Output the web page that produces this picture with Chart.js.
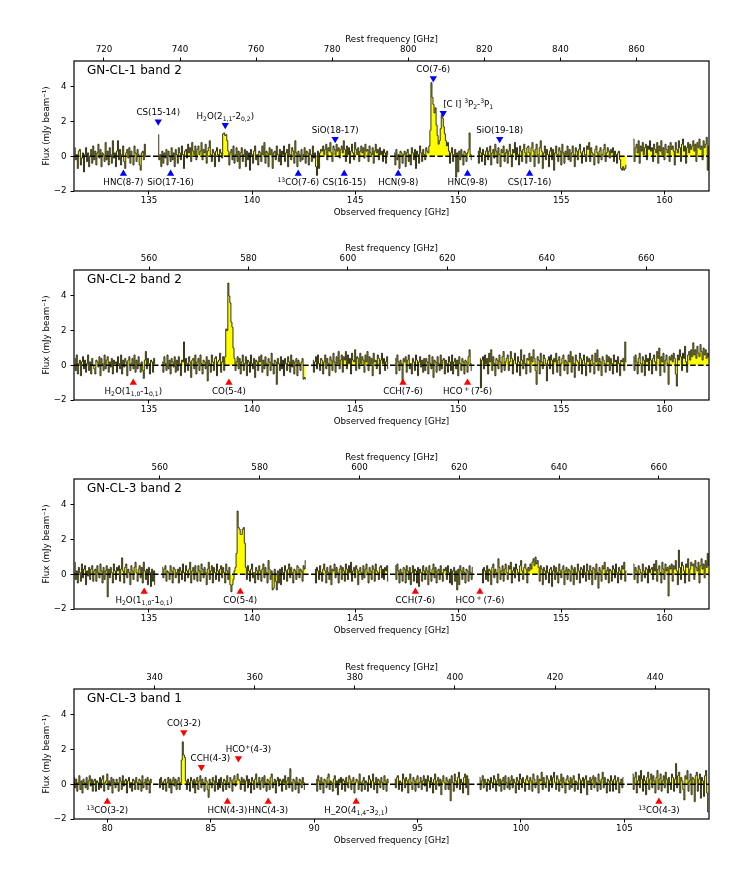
<!DOCTYPE html>
<html>
<head>
<meta charset="utf-8">
<script src="https://cdn.jsdelivr.net/npm/chart.js@4.4.0/dist/chart.umd.min.js"></script>
<style>
    body { margin: 0; background: #fff; }
    .panel { position: absolute; left: 0; width: 747px; height: 193px; }
</style>
</head>
<body>
<div class="panel" style="top: 30px;"><canvas id="p1" width="747" height="193"></canvas></div>
<div class="panel" style="top: 239px;"><canvas id="p2" width="747" height="193"></canvas></div>
<div class="panel" style="top: 448px;"><canvas id="p3" width="747" height="193"></canvas></div>
<div class="panel" style="top: 658px;"><canvas id="p4" width="747" height="193"></canvas></div>
<script>
// channel grids (GHz, observed frame), one row below = 1 GHz
const band2Start = 131.4;
const band1Start = 78.4;
const channelStep = 0.05;

// axis ticks
const yTicks = [-2, 0, 2, 4];
const band2ObsTicks = [135, 140, 145, 150, 155, 160];
const band1ObsTicks = [80, 85, 90, 95, 100, 105];
const cl1RestTicks = [720, 740, 760, 780, 800, 820, 840, 860];
const cl2RestTicks = [560, 580, 600, 620, 640, 660];
const cl3b2RestTicks = [560, 580, 600, 620, 640, 660];
const cl3b1RestTicks = [340, 360, 380, 400, 420, 440];

// flux per channel (mJy/beam), null = no data
const cl1Flux = [
    0.5,-0.2,0.1,-0.7,0.3,0.4,-0.5,-0.1,0.2,-0.9,0.1,0.5,-0.3,0.2,-0.6,0.0,0.4,-0.4,0.6,-0.2,
    0.3,-0.5,0.2,0.7,-0.1,0.4,-0.6,0.2,0.1,-0.3,0.8,-0.2,0.3,-0.5,0.5,0.1,-0.4,0.9,-0.1,0.2,
    -0.6,0.3,0.9,-0.2,0.4,-0.5,0.1,0.6,-0.3,-0.7,0.2,0.4,-0.1,0.5,-0.4,0.3,0.0,-0.5,0.6,0.2,
    -0.3,0.4,0.1,-0.5,-0.8,0.2,0.3,-0.2,0.7,0.1,null,null,null,null,null,null,null,null,null,null,
    null,1.25,-0.2,0.1,-0.6,0.3,-0.4,0.2,-0.1,0.4,-0.5,0.3,0.0,-0.3,0.5,-0.2,0.2,-0.6,0.4,0.1,
    -0.4,0.5,0.2,-0.2,0.6,0.1,-0.7,0.3,0.4,-0.1,0.7,0.2,0.5,-0.3,0.8,0.3,0.1,0.6,-0.2,0.4,
    0.6,0.1,0.3,0.8,-0.2,0.4,0.2,0.7,-0.4,0.3,0.5,0.9,0.1,-0.3,0.4,0.2,-0.6,0.3,0.5,0.1,
    -0.3,0.4,0.2,-0.1,1.3,1.35,1.2,1.25,0.9,0.3,-0.5,0.2,0.4,-0.2,0.6,-0.4,0.1,0.5,-0.3,0.3,
    -0.7,0.2,0.5,-0.3,0.1,0.4,-0.6,0.3,-0.2,0.2,-0.8,0.4,0.1,-0.4,0.3,0.6,-0.2,0.1,-0.5,0.3,
    0.2,-0.3,0.6,0.1,0.8,-0.4,0.3,0.2,-0.6,0.5,0.1,0.4,-0.7,0.2,0.3,-0.2,0.6,0.1,-0.3,0.4,
    -0.5,0.3,0.1,0.6,-0.3,0.2,0.4,-0.6,0.7,0.1,-0.2,0.5,0.3,-0.4,0.9,0.2,-0.6,0.3,0.1,-0.3,
    0.4,-0.2,0.1,0.5,-0.4,0.3,0.2,-0.5,0.4,0.1,-0.3,0.6,-0.1,0.2,-0.6,-1.1,0.3,-0.7,0.2,0.4,
    0.3,0.6,0.1,0.4,0.7,-0.2,0.5,0.3,0.8,0.2,-0.3,0.6,0.4,0.1,0.7,0.3,0.5,-0.1,0.4,0.6,
    0.2,0.9,0.4,-0.3,0.6,0.1,0.5,-0.4,0.3,0.7,0.2,-0.2,0.8,0.4,0.1,0.5,-0.3,0.3,0.6,0.2,
    0.5,-0.1,0.7,0.3,0.4,-0.3,0.6,0.2,0.1,0.5,-0.4,0.3,0.7,0.2,0.4,-0.2,0.5,0.1,0.3,-0.3,
    0.4,0.2,-0.4,0.3,0.1,null,null,null,null,null,0.2,-0.5,0.4,-0.2,0.1,-0.7,0.3,0.2,-0.4,0.1,
    0.3,-0.6,0.2,0.4,-0.3,0.1,-0.5,0.5,0.2,-0.2,0.4,-0.7,0.3,0.1,-0.4,0.6,0.2,-0.3,0.4,0.1,
    -0.2,0.5,0.3,0.2,0.6,1.5,4.25,3.4,3.0,2.5,2.8,1.8,1.2,0.7,0.9,1.6,2.4,2.2,1.7,1.3,
    0.9,0.6,0.8,0.3,-0.4,0.2,0.5,-0.3,0.1,0.4,-1.2,0.2,-0.9,0.3,-0.2,0.4,0.1,-0.5,0.3,0.2,
    -0.3,0.2,0.4,1.35,0.1,-0.2,null,null,null,null,null,0.3,-0.4,0.5,0.2,-0.3,0.4,0.1,-0.5,0.3,
    0.5,-0.2,0.3,0.6,-0.5,0.2,0.4,-0.1,0.7,0.3,-0.4,0.5,0.1,-0.6,0.4,0.2,0.6,-0.3,0.2,0.4,
    -0.4,0.3,0.7,0.1,-0.6,0.4,0.2,0.8,-0.2,0.5,0.1,-0.5,0.6,0.3,-0.3,0.4,0.7,0.2,-0.4,0.5,
    0.6,0.2,-0.3,0.5,0.8,0.3,-0.6,0.4,0.7,0.1,-0.4,0.5,0.9,0.3,-0.7,0.2,0.6,-0.2,0.4,0.1,
    -0.6,0.3,0.5,-0.2,0.4,-0.8,0.2,0.6,0.1,-0.3,0.5,0.3,-0.5,0.7,0.2,-0.4,0.3,0.1,0.6,-0.2,
    0.4,-0.3,0.2,0.6,0.1,-0.6,0.5,0.3,-0.2,0.4,0.7,0.2,-0.4,0.3,0.5,0.1,-0.3,0.6,0.4,0.8,
    -0.3,0.5,0.2,0.1,-0.5,0.4,0.6,0.2,-0.4,0.3,0.5,-0.2,0.1,0.4,0.7,-0.3,0.2,0.5,0.3,-0.1,
    0.4,0.2,0.5,-0.3,0.3,0.1,-0.4,0.2,0.3,-0.2,-0.7,-0.8,-0.6,-0.8,-0.7,-0.5,null,null,null,null,
    null,null,1.0,-0.3,0.5,0.7,0.2,0.9,-0.4,0.6,0.3,0.8,0.1,0.5,0.7,-0.2,0.6,0.4,0.9,0.3,
    0.5,-0.3,0.7,0.4,0.2,0.8,-0.4,0.6,0.3,0.9,0.1,0.5,-0.2,0.7,0.4,0.2,0.6,-0.3,0.8,0.4,
    0.6,0.3,-0.5,0.8,0.4,0.2,0.9,0.5,-0.3,0.7,1.0,0.3,0.6,-0.4,0.5,0.8,0.2,0.7,0.4,0.6,
    0.9,0.3,0.7,-0.3,0.8,0.5,1.0,0.4,0.6,-0.2,0.9,0.5,0.7,1.1,-0.8,0.6
];

const cl2Flux = [
    0.4,-0.3,0.6,-0.5,0.1,0.3,-0.6,0.2,0.5,-0.2,0.3,-0.4,0.1,0.6,-0.3,0.2,-0.5,0.4,0.0,-0.2,
    -0.5,0.3,0.2,-0.1,0.5,-0.6,0.4,0.1,-0.3,0.6,-0.2,0.3,0.5,-0.4,0.2,-0.1,0.4,-0.5,0.3,0.1,
    0.2,-0.4,0.5,0.1,-0.2,0.6,-0.5,0.3,-0.1,0.4,0.2,-0.6,0.3,0.5,-0.3,0.1,0.4,-0.2,0.6,-0.4,
    0.3,-0.2,0.5,0.1,-0.4,0.2,-0.3,-0.75,0.3,0.8,-0.2,0.4,0.1,-0.5,0.3,0.2,-0.4,0.4,0.1,null,
    null,null,null,null,null,0.2,-0.4,0.5,0.1,-0.3,0.6,-0.2,0.3,-0.5,0.4,0.2,-0.1,0.5,-0.4,0.3,
    -0.3,0.5,0.1,-0.6,0.3,0.2,1.35,-0.4,0.4,0.1,-0.3,0.5,0.2,-0.7,0.3,0.4,-0.2,0.6,-0.5,0.2,
    0.4,-0.3,0.6,0.1,-0.5,0.3,0.2,-0.2,0.5,-0.9,0.3,0.1,-0.4,0.6,0.2,-0.3,0.4,0.5,-0.6,0.2,
    0.3,0.7,-0.4,0.2,0.5,-0.3,0.5,2.1,2.0,4.75,4.0,3.6,2.5,2.2,1.0,0.4,-0.3,0.2,0.5,-0.2,
    0.4,-0.5,0.2,0.6,-0.3,0.1,0.5,-0.6,0.3,0.2,-0.4,0.6,0.1,-0.2,0.4,-0.7,0.3,0.2,-0.3,0.5,
    0.2,0.6,-0.4,0.3,-0.2,0.5,0.1,-0.6,0.4,0.2,-0.3,0.7,0.1,-0.5,0.3,0.2,-1.1,0.4,0.1,-0.3,
    0.5,-0.2,0.3,-0.6,0.4,0.1,-0.3,0.5,0.2,-0.4,0.6,-0.1,0.3,-0.5,0.2,0.4,-0.6,0.3,0.1,-0.3,
    0.2,0.4,-0.8,-0.7,-0.8,null,null,null,null,null,null,0.3,-0.4,0.2,0.5,-0.2,0.6,0.1,-0.3,0.4,
    0.3,-0.5,0.2,0.6,-0.2,0.4,0.1,-0.6,0.5,0.3,-0.3,0.7,0.2,-0.4,0.5,0.1,0.8,-0.2,0.3,0.6,
    -0.4,0.5,0.3,0.8,-0.2,0.6,0.1,0.4,-0.5,0.7,0.3,0.2,0.9,-0.3,0.5,0.4,-0.2,0.7,0.1,0.5,
    0.3,-0.4,0.6,0.2,0.8,-0.3,0.5,0.1,0.4,-0.6,0.7,0.2,0.3,-0.2,0.6,0.4,-0.5,0.3,0.7,0.1,
    0.4,-0.3,0.2,0.5,-0.2,null,null,null,null,null,null,0.4,-0.5,0.6,0.2,-0.3,0.3,0.1,-1.0,0.4,
    0.2,0.5,-0.4,0.3,0.6,-0.2,0.1,-0.5,0.4,0.2,-0.3,0.6,0.3,-0.6,0.2,0.5,-0.1,0.3,-0.4,0.4,
    -0.3,0.4,0.2,-0.5,0.6,0.1,-0.2,0.5,-0.7,0.3,0.2,-0.4,0.5,0.1,-0.3,0.6,-0.2,0.3,0.4,-0.5,
    0.3,0.1,-0.4,0.5,0.2,-0.3,0.6,-0.5,0.2,0.4,-0.2,0.3,-0.6,0.5,0.1,-0.3,0.4,0.2,-0.5,0.3,
    0.2,-0.4,0.5,0.9,0.1,-0.3,null,null,null,null,null,null,null,0.4,-1.3,0.3,0.5,-0.2,0.6,0.1,
    0.4,-0.5,0.7,0.2,0.9,-0.3,0.5,0.1,-0.6,0.4,0.3,-0.2,0.6,0.2,-0.4,0.5,0.8,-0.3,0.2,0.4,
    0.6,-0.3,0.2,0.8,0.4,-0.5,0.3,0.7,0.1,-0.4,0.5,0.2,-0.6,0.9,0.3,-0.2,0.6,0.1,-0.5,0.4,
    0.3,0.7,-0.4,0.5,0.2,0.9,0.4,-0.3,-1.1,0.5,0.3,-0.5,0.7,0.2,-0.2,0.6,0.4,0.1,-0.9,0.3,
    0.5,-0.2,0.6,0.3,-0.5,0.4,0.2,0.7,-0.4,0.3,0.5,-0.6,0.1,0.4,0.6,-0.3,0.3,0.2,-0.5,0.6,
    0.2,0.8,-0.4,0.5,0.1,-0.7,0.6,0.3,0.2,-0.3,0.7,0.4,-0.5,0.3,0.6,0.1,-0.6,0.5,0.2,0.4,
    -0.4,0.3,0.6,0.1,-0.5,0.7,0.2,0.9,-0.3,0.4,0.2,-0.6,0.5,0.3,0.1,-0.4,0.6,0.2,0.5,-0.3,
    0.4,0.1,-0.5,0.6,0.2,0.3,-0.4,0.5,0.1,-0.6,0.3,0.2,0.4,-0.3,1.35,0.2,null,null,null,null,
    null,null,0.5,-0.3,0.6,0.2,-0.5,0.4,0.7,0.1,-0.4,0.5,0.3,-0.6,0.6,0.2,0.4,-0.3,0.7,0.3,
    -0.5,0.4,0.6,0.2,-0.3,0.8,0.4,1.0,-0.6,0.5,0.2,0.7,-0.4,0.3,0.6,0.1,-1.1,0.5,0.3,0.6,
    0.2,0.7,0.4,-0.5,-1.2,0.6,0.3,0.9,0.5,-0.3,0.7,0.4,1.1,0.2,-0.4,0.6,0.8,0.3,0.9,0.5,
    1.3,0.6,0.9,0.4,1.1,0.7,0.5,1.2,0.8,0.3,1.0,0.6,0.9,0.4,0.7,0.5
];

const cl3b2Flux = [
    0.7,-0.3,0.2,-0.5,0.4,0.1,-0.4,0.6,-0.2,0.3,0.5,-0.6,0.2,-0.1,0.4,-0.3,0.3,0.5,-0.4,0.2,
    0.3,-0.4,0.5,0.1,-0.2,0.6,0.2,-0.5,0.4,-0.3,0.2,0.5,-1.3,0.3,-0.2,0.4,0.1,-0.5,0.6,0.2,
    -0.3,0.4,0.2,0.5,-0.4,0.3,0.95,0.2,-0.5,0.4,0.6,-0.2,0.3,0.1,-0.6,0.5,0.2,-0.3,0.4,0.7,
    0.1,-0.4,0.3,0.5,-0.2,0.4,-0.5,0.7,0.2,-0.3,0.3,-0.6,0.4,0.1,-0.7,0.3,-0.4,0.2,-0.6,null,
    null,null,null,null,null,0.4,-0.2,0.3,0.5,-0.4,0.2,0.1,-0.3,0.5,0.2,-0.5,0.4,0.3,-0.2,0.1,
    0.3,-0.5,0.4,0.2,-0.3,0.6,0.1,-0.4,0.5,0.2,-0.2,0.3,0.7,-0.5,0.2,0.4,-0.3,0.5,0.1,-0.4,
    0.5,0.2,-0.4,0.6,0.3,-0.2,0.4,0.1,-0.6,0.3,0.7,-0.3,0.2,0.5,-0.5,0.4,0.1,-0.3,0.6,0.2,
    -0.4,0.3,0.5,-0.2,0.4,0.1,-0.5,0.6,0.2,-0.3,0.4,-0.6,-1.0,-0.6,-0.3,0.2,0.4,1.2,3.65,2.7,
    2.6,2.3,2.3,2.6,2.7,1.8,0.4,-0.3,0.5,0.2,-0.4,0.3,0.6,-0.2,0.1,-0.5,0.4,0.2,-0.3,0.5,
    0.2,-0.4,0.3,0.6,-0.2,0.4,0.1,-0.5,0.8,0.3,-0.3,0.2,-0.9,-0.8,0.3,-0.4,-0.9,0.2,-0.5,0.3,
    -0.6,0.4,0.1,-0.3,0.5,0.2,-0.4,0.3,0.6,-0.2,0.4,0.1,-0.5,0.3,0.2,-0.3,0.5,0.4,-0.2,0.3,
    0.2,-0.4,0.5,0.3,0.8,null,null,null,null,null,null,null,null,0.3,-0.5,0.4,0.2,-0.3,0.5,0.1,
    -0.4,0.3,0.6,0.2,-0.5,0.4,0.1,-0.3,0.5,-0.6,0.3,0.2,0.6,-0.2,0.4,0.1,-0.5,0.3,0.5,-0.3,
    0.4,0.2,-0.4,0.6,0.3,-0.3,0.5,0.1,0.7,-0.4,0.2,0.4,-0.2,0.5,0.3,-0.6,0.2,0.4,0.1,-0.3,
    0.5,-0.2,0.3,0.6,0.1,-0.5,0.4,0.2,-0.3,0.5,0.3,-0.4,0.6,0.2,0.1,-0.3,0.4,0.5,-0.2,0.3,
    -0.3,0.4,0.2,0.5,-0.4,null,null,null,null,null,null,0.5,-0.3,0.6,0.2,-0.5,0.3,0.1,-0.4,0.4,
    0.3,-0.5,0.5,0.2,-0.3,0.4,-0.6,0.1,0.5,-0.4,0.3,0.2,-0.5,0.4,-0.7,0.3,0.1,-0.4,0.5,0.2,
    -0.3,0.4,0.2,-0.6,0.5,0.1,-0.4,0.3,0.6,-0.2,0.4,-0.5,0.2,0.3,-0.3,0.5,0.1,-0.4,0.3,0.2,
    0.4,-0.3,0.5,0.1,-0.5,0.3,-0.6,0.2,0.4,-0.4,0.2,-0.9,0.3,-0.6,0.5,0.2,-0.3,0.4,0.1,-0.5,
    0.3,0.2,-0.4,0.5,0.1,-0.3,0.4,null,null,null,null,null,null,null,null,0.3,-0.5,0.4,0.2,-0.3,
    0.5,-0.4,0.3,0.2,-0.6,0.4,0.6,-0.2,0.3,0.1,-0.5,0.9,0.4,-0.3,0.2,0.5,-0.4,0.3,0.6,0.1,
    -0.3,0.5,0.3,0.7,-0.5,0.2,0.4,-0.2,0.6,0.3,0.1,-0.4,0.5,0.8,0.2,-0.3,0.4,0.6,0.3,-0.5,
    0.4,0.2,0.6,0.3,0.7,0.9,0.5,1.0,0.6,0.8,0.4,-0.4,0.5,0.3,-0.6,0.4,0.2,-0.3,0.5,0.1,
    -0.5,0.3,0.4,-0.7,0.2,0.5,-0.3,0.4,0.1,-0.5,0.6,0.2,-0.2,0.3,0.5,-0.6,0.2,0.4,-0.3,0.3,
    0.2,-0.4,0.5,0.3,-0.6,0.4,0.1,-0.3,0.6,0.2,-0.5,0.4,0.3,-0.2,0.5,0.1,-0.4,0.6,0.2,-0.3,
    0.5,0.2,-0.6,0.4,0.3,-0.3,0.6,0.1,-0.8,0.4,0.2,-0.4,0.5,0.3,0.7,-0.3,0.2,0.4,-0.5,0.3,
    0.2,-0.4,0.5,0.3,-0.2,0.6,0.1,-0.5,0.4,0.2,-0.3,0.5,0.3,0.7,-0.4,0.2,null,null,null,null,
    null,null,0.6,-0.3,0.4,0.2,-0.5,0.5,0.3,0.1,-0.4,0.6,0.2,-0.2,0.4,0.3,-0.5,0.5,0.1,0.3,
    0.4,-0.3,0.6,0.2,0.8,-0.4,0.3,0.5,0.1,-0.5,0.7,0.3,-0.3,0.6,0.2,0.4,-1.25,0.5,0.3,0.6,
    -0.4,0.5,0.3,0.8,0.2,-0.6,1.4,0.4,-0.3,0.7,0.5,0.2,-0.5,0.6,0.4,0.9,-0.4,0.3,0.7,0.5,
    0.6,-0.3,0.8,0.4,0.2,0.7,-0.5,0.5,0.9,0.3,0.6,-0.2,0.8,0.4,1.2,0.5
];

const cl3b1Flux = [
    0.4,-0.2,0.3,-0.4,0.1,0.5,-0.3,0.2,-0.5,0.3,0.1,-0.2,0.4,-0.3,0.2,0.5,-0.1,0.3,-0.4,0.2,
    0.3,-0.4,0.2,0.1,-0.3,0.4,-0.2,0.3,0.5,-0.4,0.1,0.2,0.6,-0.3,0.2,-0.1,0.4,-0.5,0.3,0.1,
    -0.2,0.3,0.1,-0.4,0.4,0.2,-0.3,0.5,-0.1,0.2,0.3,-0.5,0.2,0.4,-0.2,0.1,-0.4,0.3,0.2,-0.3,
    0.4,0.1,-0.3,0.3,0.2,-0.4,0.5,-0.2,0.1,0.3,-0.3,0.4,0.2,-0.5,0.3,0.1,null,null,null,null,
    null,null,0.3,-0.2,0.4,0.1,-0.3,0.2,0.3,-0.4,0.1,0.4,-0.2,0.3,-0.5,0.2,0.4,-0.1,0.3,-0.3,
    0.2,0.4,-0.3,0.1,1.4,2.45,1.7,1.55,0.2,-0.3,0.3,0.1,-0.4,0.4,0.2,-0.2,0.3,-0.5,0.2,0.4,
    -0.3,0.2,0.5,-0.2,0.3,0.1,-0.4,0.4,0.2,-0.3,-0.75,0.3,0.1,-0.2,0.4,0.2,-0.4,0.5,0.1,-0.3,
    0.3,-0.2,0.4,0.1,-0.4,0.3,0.2,-0.3,0.5,0.1,-0.2,0.4,0.2,-0.4,0.3,0.5,-0.1,0.2,0.6,0.3,
    0.2,-0.3,0.4,0.1,0.3,-0.4,0.2,0.5,-0.2,0.3,0.1,-0.5,0.4,0.2,-0.3,0.3,0.6,-0.2,0.1,0.4,
    -0.3,0.2,0.4,-0.2,0.5,0.1,-0.4,0.3,0.2,-0.3,0.4,0.6,-0.2,0.1,0.3,-0.5,0.2,0.4,-0.1,0.3,
    0.2,-0.4,0.3,0.1,0.5,-0.3,0.2,0.4,-0.2,0.9,0.1,-0.4,0.3,0.2,-0.3,0.4,0.1,-0.5,0.3,0.2,
    -0.2,0.4,0.1,-0.3,null,null,null,null,null,null,null,null,null,null,0.3,-0.4,0.5,0.2,-0.3,0.4,
    0.1,-0.5,0.3,0.2,-0.2,0.4,0.6,-0.3,0.2,0.1,-0.4,0.3,0.5,-0.2,0.2,-0.6,0.3,0.1,0.4,-0.3,
    0.3,0.2,-0.4,0.4,0.1,-0.2,0.5,0.3,-0.3,0.2,0.4,-0.5,0.1,0.3,0.2,-0.3,0.6,0.1,-0.4,0.2,
    0.4,-0.3,0.2,0.1,-0.4,0.5,0.3,-0.2,0.2,0.6,-0.3,0.1,0.4,-0.5,0.3,0.2,-0.2,0.4,0.1,-0.3,
    0.5,0.2,-0.4,0.3,0.1,null,null,null,null,null,0.3,-0.2,0.4,0.5,-0.3,0.2,0.1,-0.4,0.6,0.3,
    -0.2,0.4,0.2,-0.5,0.3,0.6,0.1,-0.3,0.4,0.2,-0.4,0.3,0.5,-0.2,0.1,0.4,-0.3,0.2,0.5,-0.1,
    0.3,-0.4,0.5,0.2,-0.2,0.4,0.1,-0.5,0.3,0.6,-0.3,0.2,0.4,-0.1,0.3,-0.6,0.2,0.5,0.1,-0.3,
    0.4,0.2,-0.3,0.3,-0.95,0.5,0.1,-0.4,0.6,0.2,-0.2,0.4,0.7,-0.3,0.3,0.1,-0.5,0.4,0.6,-0.2,
    0.5,-0.6,0.3,null,null,null,null,null,null,null,null,null,0.4,-0.3,0.2,0.5,-0.2,0.3,0.1,-0.4,
    0.3,0.2,-0.3,0.4,0.1,-0.2,0.5,0.3,-0.4,0.2,0.6,-0.1,0.3,-0.4,0.2,0.4,-0.3,0.5,0.1,-0.2,
    0.4,-0.3,0.2,0.5,-0.2,0.3,0.1,-0.5,0.4,0.2,-0.3,0.6,0.3,-0.2,0.4,0.1,-0.4,0.3,0.5,0.2,
    -0.3,0.4,0.2,-0.4,0.6,0.3,-0.2,0.1,0.5,-0.5,0.3,0.2,0.7,-0.3,0.4,0.1,-0.2,0.5,0.3,-0.4,
    0.2,0.5,-0.2,0.4,0.7,0.1,-0.3,0.5,0.3,-0.4,0.2,0.6,-0.2,0.4,0.1,-0.5,0.3,0.5,0.2,-0.3,
    0.4,-0.2,0.3,0.5,-0.4,0.2,0.1,-0.3,0.6,0.3,-0.5,0.2,0.4,-0.2,0.3,0.5,-0.6,0.2,0.1,0.4,
    -0.3,0.3,0.5,-0.2,0.4,0.1,-0.4,0.6,0.2,-0.3,0.3,0.7,-0.2,0.4,0.1,-0.5,0.3,0.2,-0.4,0.5,
    0.2,-0.4,0.3,0.5,-0.3,0.2,0.4,-0.5,0.1,0.3,-0.2,0.4,null,null,null,null,null,null,null,null,
    0.6,-0.3,0.4,0.7,-0.5,0.2,0.5,-0.2,0.8,0.3,-0.4,0.5,0.2,-0.6,0.4,0.7,-0.3,0.3,0.6,-0.2,
    0.5,0.2,-0.5,0.4,0.8,-0.3,0.3,0.6,-0.4,0.2,0.5,-0.2,0.7,0.3,-0.5,0.4,0.1,-0.3,0.6,0.4,
    -0.4,0.3,1.2,-0.2,0.5,0.7,-0.5,0.4,0.2,-0.3,-0.9,0.5,0.3,0.8,-0.4,0.2,0.6,-0.6,0.4,0.3,
    -1.0,0.5,0.7,-0.4,0.3,0.6,-0.8,0.4,0.2,-0.7,0.5,0.8,-0.5,-1.6
];

// line identifications: name, observed frequency, marker height
const cl1LineNames = ['HNC(8-7)', 'CS(15-14)', 'SiO(17-16)', 'H_{2}O(2_{1,1}-2_{0,2})', '^{13}CO(7-6)', 'SiO(18-17)', 'CS(16-15)', 'HCN(9-8)', 'CO(7-6)', '[C I] ^{3}P_{2}-^{3}P_{1}', 'HNC(9-8)', 'SiO(19-18)', 'CS(17-16)'];
const cl1LineFreqs = [133.76, 135.45, 136.05, 138.70, 142.24, 144.03, 144.47, 147.09, 148.79, 149.27, 150.45, 152.01, 153.46];
const cl1LineMarks = [-1, 2, -1, 1.8, -1, 1, -1, -1, 4.5, 2.5, -1, 1, -1];

const cl2LineNames = ['H_{2}O(1_{1,0}-1_{0,1})', 'CO(5-4)', 'CCH(7-6)', 'HCO\u2009^{+}\u2009(7-6)'];
const cl2LineFreqs = [134.24, 138.88, 147.32, 150.45];
const cl2LineMarks = [-1, -1, -1, -1];

const cl3b2LineNames = ['H_{2}O(1_{1,0}-1_{0,1})', 'CO(5-4)', 'CCH(7-6)', 'HCO\u2009^{+}\u2009(7-6)'];
const cl3b2LineFreqs = [134.77, 139.43, 147.92, 151.05];
const cl3b2LineMarks = [-1, -1, -1, -1];

const cl3b1LineNames = ['^{13}CO(3-2)', 'CO(3-2)', 'CCH(4-3)', 'HCN(4-3)', 'HCO^{+}(4-3)', 'HNC(4-3)', 'H_2O(4_{1,4}-3_{2,1})', '^{13}CO(4-3)'];
const cl3b1LineFreqs = [80.0, 83.70, 84.55, 85.81, 86.34, 87.78, 92.03, 106.67];
const cl3b1LineMarks = [-1, 3, 1, -1, 1.5, -1, -1, -1];

// label placement tweaks
const labelShift = { 'CCH(4-3)': 9, 'HCO^{+}(4-3)': 10 };
const leftAligned = ['[C I] ^{3}P_{2}-^{3}P_{1}'];

const FONT = '"DejaVu Sans", sans-serif';
const SMALL = 8.7;

Chart.defaults.font.family = FONT;
Chart.defaults.color = '#000';

function richSegments(str) {
    const out = [];
    const re = /([_^])\{([^}]*)\}/g;
    let last = 0;
    let m;
    while ((m = re.exec(str))) {
        if (m.index > last) out.push({ t: str.slice(last, m.index), k: 0 });
        out.push({ t: m[2], k: m[1] === '_' ? 1 : -1 });
        last = re.lastIndex;
    }
    if (last < str.length) out.push({ t: str.slice(last), k: 0 });
    return out;
}

function drawRich(ctx, str, x, y, align, size) {
    const segs = richSegments(str);
    const small = size * 0.7;
    let total = 0;
    segs.forEach(s => {
        ctx.font = `${s.k ? small : size}px ${FONT}`;
        s.w = ctx.measureText(s.t).width;
        total += s.w;
    });
    let cx = align === 'left' ? x : x - total / 2;
    const base = y + size * 0.365;
    ctx.textAlign = 'left';
    ctx.textBaseline = 'alphabetic';
    segs.forEach(s => {
        ctx.font = `${s.k ? small : size}px ${FONT}`;
        const dy = s.k === 1 ? size * 0.22 : (s.k === -1 ? -size * 0.4 : 0);
        ctx.fillText(s.t, cx, base + dy);
        cx += s.w;
    });
}

function makeDecor(panel) {
    return {
        id: 'decor',
        afterDraw(chart) {
            const { ctx, chartArea: a, scales } = chart;
            ctx.save();
            ctx.strokeStyle = '#000';
            ctx.lineWidth = 1.2;
            ctx.strokeRect(a.left, a.top, a.right - a.left, a.bottom - a.top);
            ctx.fillStyle = '#000';
            ctx.font = `12px ${FONT}`;
            ctx.textAlign = 'left';
            ctx.textBaseline = 'middle';
            ctx.fillText(panel.title, a.left + 13, a.top + 9.5);
            panel.names.forEach((name, i) => {
                const x = scales.x.getPixelForValue(panel.freqs[i]) + (labelShift[name] || 0);
                const y = scales.y.getPixelForValue(panel.marks[i]);
                const down = panel.marks[i] > 0;
                drawRich(ctx, name, x, down ? y - 9.5 : y + 8.5, leftAligned.includes(name) ? 'left' : 'center', SMALL);
            });
            ctx.restore();
        }
    };
}

function tickGrid() {
    return { display: true, drawOnChartArea: false, drawTicks: true, tickLength: 3.5, color: '#000', tickWidth: 1 };
}

function buildPanel(canvasId, panel) {
    const spectrum = panel.flux.map((v, i) => ({ x: +(panel.start + i * channelStep).toFixed(3), y: v }));
    const markers = panel.freqs.map((f, i) => ({ x: f, y: panel.marks[i] }));

    new Chart(document.getElementById(canvasId), {
        type: 'line',
        data: {
            datasets: [
                {
                    data: markers,
                    showLine: false,
                    pointStyle: 'triangle',
                    pointRadius: 4.2,
                    pointRotation: panel.marks.map(v => v > 0 ? 180 : 0),
                    pointBackgroundColor: panel.markColor,
                    pointBorderWidth: 0,
                    order: 0
                },
                {
                    data: [{ x: panel.xmin, y: 0 }, { x: panel.xmax, y: 0 }],
                    borderColor: '#000',
                    borderWidth: 1.5,
                    borderDash: [5.5, 2.4],
                    pointRadius: 0,
                    fill: false,
                    order: 1
                },
                {
                    data: spectrum,
                    stepped: 'middle',
                    borderColor: '#000',
                    borderWidth: 0.8,
                    pointRadius: 0,
                    spanGaps: false,
                    fill: { target: 'origin', above: '#ffff00', below: '#ffff00' },
                    order: 2
                }
            ]
        },
        options: {
            responsive: false,
            animation: false,
            events: [],
            layout: { padding: { left: 37, right: 38, top: 0, bottom: 0 } },
            plugins: { legend: { display: false }, tooltip: { enabled: false } },
            scales: {
                x: {
                    type: 'linear',
                    position: 'bottom',
                    min: panel.xmin,
                    max: panel.xmax,
                    afterBuildTicks: s => { s.ticks = panel.obsTicks.map(v => ({ value: v })); },
                    afterFit: s => { s.height = 32; },
                    grid: tickGrid(),
                    border: { display: false },
                    ticks: { font: { size: SMALL }, padding: 1, maxRotation: 0, autoSkip: false },
                    title: { display: true, text: 'Observed frequency [GHz]', font: { size: SMALL }, padding: { top: 4, bottom: 5 } }
                },
                x2: {
                    type: 'linear',
                    position: 'top',
                    min: panel.xmin * panel.restFactor,
                    max: panel.xmax * panel.restFactor,
                    afterBuildTicks: s => { s.ticks = panel.restTicks.map(v => ({ value: v })); },
                    afterFit: s => { s.height = 31; },
                    grid: tickGrid(),
                    border: { display: false },
                    ticks: { font: { size: SMALL }, padding: 2.5, maxRotation: 0, autoSkip: false },
                    title: { display: true, text: 'Rest frequency [GHz]', font: { size: SMALL }, padding: { top: 5, bottom: 4 } }
                },
                y: {
                    type: 'linear',
                    position: 'left',
                    min: -2,
                    max: 5.5,
                    afterBuildTicks: s => { s.ticks = yTicks.map(v => ({ value: v })); },
                    afterFit: s => { s.width = 37; },
                    grid: tickGrid(),
                    border: { display: false },
                    ticks: {
                        font: { size: SMALL },
                        padding: 4,
                        callback: v => v < 0 ? '\u2212' + Math.abs(v) : String(v)
                    },
                    title: { display: true, text: 'Flux (mJy beam\u207B\u00B9)', font: { size: SMALL }, padding: { top: 5, bottom: 4 } }
                }
            }
        },
        plugins: [makeDecor(panel)]
    });
}

buildPanel('p1', {
    title: 'GN-CL-1 band 2', flux: cl1Flux, start: band2Start, xmin: 131.365, xmax: 162.16,
    restFactor: 5.421, obsTicks: band2ObsTicks, restTicks: cl1RestTicks,
    names: cl1LineNames, freqs: cl1LineFreqs, marks: cl1LineMarks, markColor: '#0000ff'
});
buildPanel('p2', {
    title: 'GN-CL-2 band 2', flux: cl2Flux, start: band2Start, xmin: 131.365, xmax: 162.16,
    restFactor: 4.148, obsTicks: band2ObsTicks, restTicks: cl2RestTicks,
    names: cl2LineNames, freqs: cl2LineFreqs, marks: cl2LineMarks, markColor: '#ff0000'
});
buildPanel('p3', {
    title: 'GN-CL-3 band 2', flux: cl3b2Flux, start: band2Start, xmin: 131.365, xmax: 162.16,
    restFactor: 4.132, obsTicks: band2ObsTicks, restTicks: cl3b2RestTicks,
    names: cl3b2LineNames, freqs: cl3b2LineFreqs, marks: cl3b2LineMarks, markColor: '#ff0000'
});
buildPanel('p4', {
    title: 'GN-CL-3 band 1', flux: cl3b1Flux, start: band1Start, xmin: 78.39, xmax: 109.09,
    restFactor: 4.132, obsTicks: band1ObsTicks, restTicks: cl3b1RestTicks,
    names: cl3b1LineNames, freqs: cl3b1LineFreqs, marks: cl3b1LineMarks, markColor: '#ff0000'
});
</script>
</body>
</html>
